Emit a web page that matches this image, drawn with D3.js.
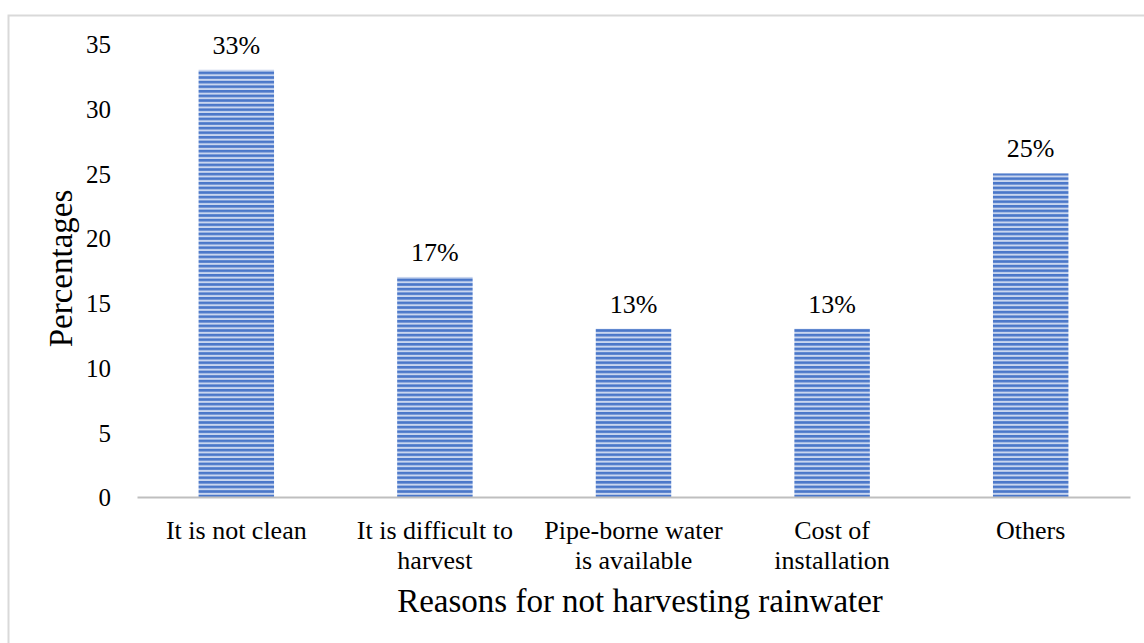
<!DOCTYPE html>
<html>
<head>
<meta charset="utf-8">
<script src="https://cdnjs.cloudflare.com/ajax/libs/d3/7.8.5/d3.min.js"></script>
<style>
  body { margin: 0; background: #fff; }
  text { font-family: "Liberation Serif", "Times New Roman", serif; fill: #000; }
</style>
</head>
<body>
<div id="chart"></div>
<script>
// chart data
var categories = [
  ["It is not clean"],
  ["It is difficult to", "harvest"],
  ["Pipe-borne water", "is available"],
  ["Cost of", "installation"],
  ["Others"]
];
var values = [33, 17, 13, 13, 25];
var valueLabels = ["33%", "17%", "13%", "13%", "25%"];
var yTicks = [0, 5, 10, 15, 20, 25, 30, 35];

var svgWidth = 1144;
var svgHeight = 643;

var margin = { top: 44, right: 14, bottom: 146, left: 137 };
var width = svgWidth - margin.left - margin.right;
var height = svgHeight - margin.top - margin.bottom;

var svg = d3.select("#chart")
  .append("svg")
  .attr("width", svgWidth)
  .attr("height", svgHeight);

// outer frame (cut off at right and bottom like the screenshot)
svg.append("rect")
  .attr("x", 8.5)
  .attr("y", 15.5)
  .attr("width", svgWidth + 20)
  .attr("height", svgHeight + 20)
  .attr("fill", "none")
  .attr("stroke", "#d9d9d9")
  .attr("stroke-width", 2);

// stripe pattern for the bars
var defs = svg.append("defs");
var pat = defs.append("pattern")
  .attr("id", "stripes")
  .attr("patternUnits", "userSpaceOnUse")
  .attr("width", 10)
  .attr("height", 4.6);
pat.append("rect").attr("width", 10).attr("height", 4.6).attr("fill", "#c9d6ef");
pat.append("rect").attr("y", 0).attr("width", 10).attr("height", 2.6).attr("fill", "#4a77c9");

var chartGroup = svg.append("g")
  .attr("transform", `translate(${margin.left}, ${margin.top})`);

var xScale = d3.scaleBand()
  .domain(d3.range(categories.length))
  .range([0, width])
  .paddingInner(0.62)
  .paddingOuter(0.31);

var yScale = d3.scaleLinear()
  .domain([0, 35])
  .range([height, 0]);

// y axis (labels only)
var leftAxis = d3.axisLeft(yScale)
  .tickValues(yTicks)
  .tickSize(0)
  .tickPadding(0);

var yAxisG = chartGroup.append("g")
  .attr("transform", "translate(-26, 0)")
  .call(leftAxis);
yAxisG.select(".domain").remove();
yAxisG.selectAll("text")
  .attr("font-size", "25px")
  .attr("font-family", "Liberation Serif, serif")
  .attr("fill", "#000")
  .attr("dy", "0.35em")
  .attr("text-anchor", "end");

// bars
chartGroup.selectAll("rect.bar")
  .data(values)
  .enter()
  .append("rect")
  .attr("class", "bar")
  .attr("x", (d, i) => xScale(i))
  .attr("y", d => yScale(d))
  .attr("width", xScale.bandwidth())
  .attr("height", d => height - yScale(d))
  .attr("fill", "url(#stripes)");

// value labels
chartGroup.selectAll("text.val")
  .data(values)
  .enter()
  .append("text")
  .attr("class", "val")
  .attr("x", (d, i) => xScale(i) + xScale.bandwidth() / 2)
  .attr("y", d => yScale(d) - 16)
  .attr("text-anchor", "middle")
  .attr("font-size", "26px")
  .text((d, i) => valueLabels[i]);

// x axis
var bottomAxis = d3.axisBottom(xScale).tickSize(0).tickFormat("");
var xAxisG = chartGroup.append("g")
  .attr("transform", `translate(0, ${height})`)
  .call(bottomAxis);
xAxisG.select(".domain").attr("stroke", "#bfbfbf").attr("stroke-width", 2);

// category labels
var catG = chartGroup.selectAll("g.cat")
  .data(categories)
  .enter()
  .append("g")
  .attr("class", "cat")
  .attr("transform", (d, i) => `translate(${xScale(i) + xScale.bandwidth() / 2}, ${height + 42})`);
catG.selectAll("text")
  .data(d => d)
  .enter()
  .append("text")
  .attr("x", 0)
  .attr("y", (d, j) => j * 30)
  .attr("text-anchor", "middle")
  .attr("font-size", "26px")
  .text(d => d);

// axis titles
svg.append("text")
  .attr("x", 640)
  .attr("y", 612)
  .attr("text-anchor", "middle")
  .attr("font-size", "33px")
  .text("Reasons for not harvesting rainwater");

svg.append("text")
  .attr("transform", `translate(72, ${margin.top + height / 2 - 2}) rotate(-90)`)
  .attr("text-anchor", "middle")
  .attr("font-size", "33px")
  .text("Percentages");
</script>
</body>
</html>
